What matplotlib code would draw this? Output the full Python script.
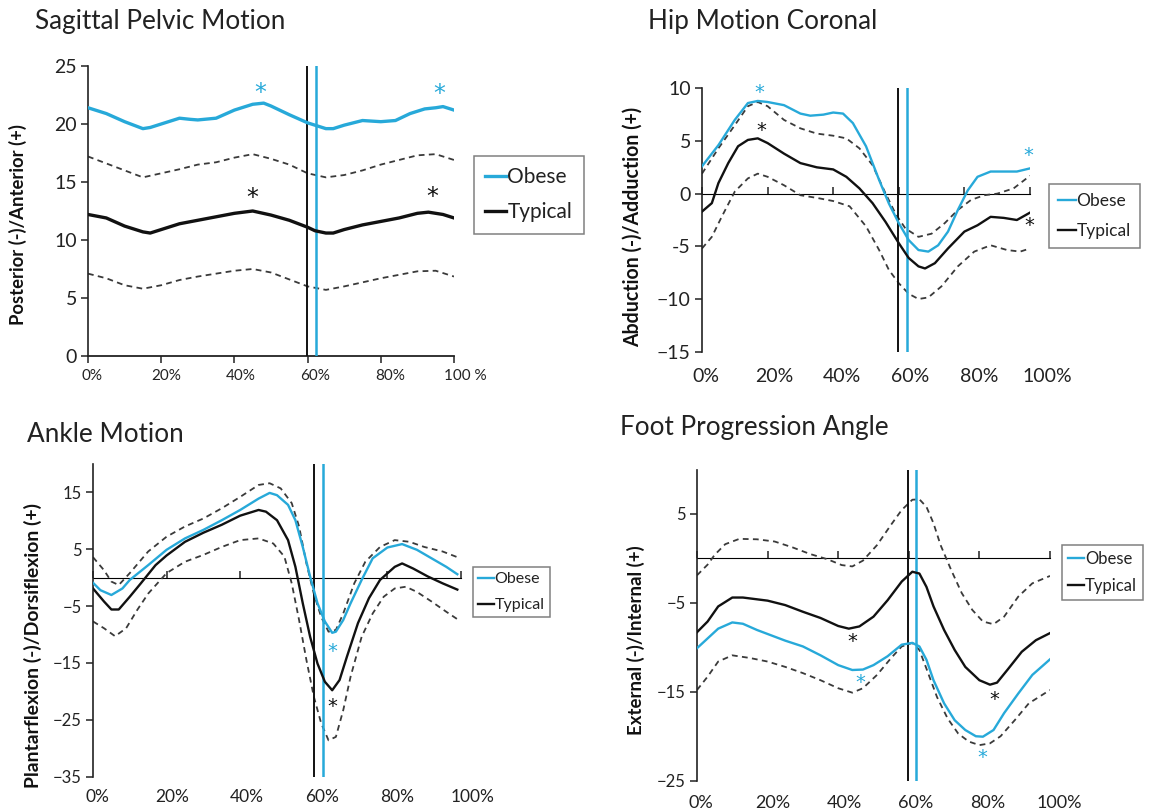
import matplotlib
matplotlib.use("Agg")
import matplotlib.pyplot as plt
from matplotlib.transforms import offset_copy

plt.rcParams['font.family'] = ['Lato', 'DejaVu Sans']

BLUE = '#27a9d9'
DASH = '#3a3a3a'
INK = '#222222'

# ---------------- Panel 1: Sagittal Pelvic Motion ----------------
p1_obese_x = [0, 5, 10, 15, 17, 20, 25, 28, 30, 35, 40, 45, 48, 50, 55, 60, 62, 65, 67, 70, 75, 80, 84, 88, 92, 95, 97, 100]
p1_obese_y = [21.4, 20.9, 20.2, 19.6, 19.7, 20.0, 20.5, 20.4, 20.35, 20.5, 21.2, 21.7, 21.8, 21.55, 20.8, 20.1, 19.9, 19.6, 19.6, 19.9, 20.3, 20.2, 20.3, 20.9, 21.3, 21.4, 21.5, 21.2]
p1_typ_x = [0, 5, 10, 15, 17, 20, 25, 30, 35, 40, 45, 50, 55, 60, 62, 65, 67, 70, 75, 80, 85, 90, 93, 97, 100]
p1_typ_y = [12.2, 11.9, 11.2, 10.7, 10.6, 10.9, 11.4, 11.7, 12.0, 12.3, 12.5, 12.15, 11.7, 11.1, 10.8, 10.6, 10.6, 10.9, 11.3, 11.6, 11.9, 12.3, 12.4, 12.2, 11.9]
p1_sd_x = [0, 5, 10, 15, 20, 25, 30, 35, 40, 45, 50, 55, 60, 65, 70, 75, 80, 85, 90, 95, 100]
p1_upper = [17.2, 16.6, 16.0, 15.4, 15.75, 16.1, 16.5, 16.7, 17.1, 17.4, 17.0, 16.5, 15.75, 15.4, 15.6, 16.0, 16.5, 16.9, 17.3, 17.4, 16.9]
p1_lower = [7.1, 6.7, 6.1, 5.8, 6.1, 6.55, 6.85, 7.1, 7.35, 7.5, 7.2, 6.6, 6.0, 5.7, 6.0, 6.35, 6.7, 7.0, 7.3, 7.35, 6.85]
p1_star_blue = [(47, 22.7), (96, 22.6)]
p1_star_black = [(45, 13.6), (94, 13.7)]
p1_toe_off = (59.8, 62.4)

# ---------------- Panel 2: Hip Motion Coronal ----------------
p2_obese_x = [0, 5, 10, 14, 17, 20, 25, 30, 33, 37, 40, 43, 46, 50, 54, 57, 60, 63, 66, 69, 72, 75, 78, 81, 84, 88, 92, 96, 100]
p2_obese_y = [2.6, 4.6, 7.0, 8.6, 8.8, 8.7, 8.4, 7.6, 7.4, 7.5, 7.7, 7.6, 6.7, 4.5, 1.3, -0.95, -2.8, -4.4, -5.35, -5.5, -4.9, -3.6, -1.55, 0.3, 1.6, 2.1, 2.1, 2.1, 2.4]
p2_typ_x = [0, 3, 5, 8, 11, 14, 17, 20, 25, 30, 35, 40, 44, 48, 52, 56, 60, 63, 66, 68, 71, 75, 80, 84, 88, 92, 96, 100]
p2_typ_y = [-1.7, -0.9, 1.0, 2.9, 4.5, 5.1, 5.25, 4.8, 3.8, 2.9, 2.5, 2.3, 1.6, 0.5, -0.9, -2.7, -4.7, -6.1, -6.9, -7.1, -6.6, -5.2, -3.6, -3.0, -2.2, -2.3, -2.5, -1.8]
p2_up_x = [0, 5, 10, 14, 17, 20, 25, 30, 35, 40, 44, 48, 52, 56, 59, 62, 66, 70, 74, 78, 82, 86, 90, 95, 100]
p2_upper = [1.9, 4.3, 6.5, 8.3, 8.7, 8.3, 7.0, 6.2, 5.7, 5.5, 5.25, 4.3, 2.7, 0.0, -1.9, -3.3, -4.1, -3.8, -2.8, -1.55, -0.6, -0.15, 0.0, 0.5, 1.7]
p2_lo_x = [0, 3, 6, 10, 14, 17, 20, 25, 30, 35, 40, 45, 50, 54, 57, 60, 63, 66, 69, 73, 78, 83, 88, 93, 97, 100]
p2_lower = [-5.2, -4.1, -2.2, 0.2, 1.45, 1.9, 1.6, 0.8, -0.15, -0.4, -0.7, -1.2, -3.1, -5.35, -7.25, -8.5, -9.5, -10.0, -9.85, -8.8, -6.9, -5.5, -4.9, -5.35, -5.5, -5.2]
p2_star_blue = [(17.6, 9.6), (99.5, 3.6)]
p2_star_black = [(18, 6.0), (99.7, -3.0)]
p2_toe_off = (59.9, 62.6)

# ---------------- Panel 3: Ankle Motion ----------------
p3_obese_x = [0, 2, 5, 8, 10, 15, 20, 25, 30, 35, 40, 45, 48, 50, 53, 55, 57, 59, 61, 63, 65, 66, 68, 70, 73, 76, 80, 84, 88, 92, 96, 99]
p3_obese_y = [-0.9, -2.2, -3.05, -1.9, -0.4, 2.2, 4.9, 6.9, 8.4, 10.1, 11.9, 13.9, 14.9, 14.5, 12.8, 10.1, 5.4, 0.2, -4.5, -7.7, -9.7, -9.5, -7.45, -4.5, -0.4, 3.4, 5.3, 5.9, 4.9, 3.4, 1.9, 0.6]
p3_typ_x = [0, 3, 5, 7, 10, 13, 17, 20, 25, 30, 35, 40, 45, 47, 50, 53, 55, 57, 59, 61, 63, 65, 67, 69, 72, 75, 78, 82, 84, 87, 91, 95, 99]
p3_typ_y = [-1.9, -4.2, -5.6, -5.6, -3.35, -1.0, 2.2, 3.9, 6.3, 7.9, 9.3, 10.9, 11.9, 11.6, 10.1, 6.6, 1.9, -4.5, -10.4, -15.1, -18.3, -19.8, -18.0, -13.9, -8.0, -3.6, -0.4, 1.9, 2.5, 1.6, 0.2, -1.0, -2.1]
p3_up_x = [0, 3, 5, 7, 10, 15, 20, 25, 30, 35, 40, 45, 48, 51, 54, 56, 58, 60, 62, 64, 66, 68, 71, 74, 78, 82, 86, 90, 95, 99]
p3_upper = [3.6, 1.3, -0.7, -1.3, 0.8, 4.6, 7.2, 9.0, 10.4, 12.2, 14.2, 16.3, 16.6, 15.7, 13.1, 9.0, 2.5, -2.8, -6.9, -9.5, -9.2, -6.3, -1.0, 2.8, 5.4, 6.6, 6.3, 5.4, 4.6, 3.6]
p3_lo_x = [0, 3, 6, 9, 12, 15, 20, 25, 30, 35, 40, 45, 49, 52, 54, 56, 58, 60, 62, 64, 66, 68, 70, 73, 76, 79, 82, 85, 88, 92, 96, 99]
p3_lower = [-7.7, -8.9, -10.3, -8.9, -5.7, -2.8, 0.8, 2.8, 4.0, 5.4, 6.6, 6.9, 6.0, 3.7, -1.0, -7.45, -14.5, -20.9, -25.6, -28.6, -28.0, -23.3, -17.4, -10.4, -6.3, -3.35, -1.9, -1.6, -2.5, -4.2, -6.0, -7.3]
p3_star_blue = [(65, -13.0)]
p3_star_black = [(65, -22.7)]
p3_toe_off = (60.1, 62.6)

# ---------------- Panel 4: Foot Progression Angle ----------------
p4_obese_x = [0, 3, 6, 10, 13, 17, 20, 25, 30, 35, 40, 44, 47, 50, 54, 58, 61, 63, 65, 67, 70, 73, 76, 79, 81, 84, 87, 91, 95, 100]
p4_obese_y = [-10.1, -9.0, -7.9, -7.2, -7.35, -8.05, -8.5, -9.25, -9.9, -10.9, -12.0, -12.55, -12.5, -12.0, -11.0, -9.7, -9.5, -9.9, -11.4, -13.7, -16.3, -18.2, -19.3, -20.0, -20.05, -19.3, -17.4, -15.2, -13.1, -11.35]
p4_typ_x = [0, 3, 6, 10, 13, 17, 20, 25, 30, 35, 40, 43, 46, 50, 54, 58, 61, 63, 65, 67, 70, 73, 76, 80, 83, 85, 88, 92, 96, 100]
p4_typ_y = [-8.3, -7.1, -5.4, -4.4, -4.4, -4.6, -4.75, -5.25, -6.0, -6.7, -7.6, -7.9, -7.65, -6.55, -4.7, -2.6, -1.5, -1.7, -3.2, -5.4, -8.05, -10.3, -12.2, -13.7, -14.2, -13.97, -12.5, -10.5, -9.2, -8.4]
p4_up_x = [0, 3, 5, 8, 12, 17, 22, 27, 32, 37, 41, 44, 47, 51, 55, 58, 61, 63, 65, 67, 69, 72, 75, 78, 81, 84, 87, 91, 95, 100]
p4_upper = [-1.9, -0.7, 0.4, 1.6, 2.2, 2.15, 1.9, 1.25, 0.5, -0.1, -0.75, -0.9, -0.25, 1.5, 3.8, 5.45, 6.6, 6.65, 5.8, 3.95, 1.5, -1.3, -3.9, -5.8, -7.1, -7.4, -6.55, -4.3, -2.8, -1.97]
p4_lo_x = [0, 3, 6, 10, 15, 20, 25, 30, 35, 40, 44, 47, 51, 55, 58, 61, 63, 65, 68, 71, 74, 77, 80, 83, 86, 90, 94, 100]
p4_lower = [-14.8, -13.3, -11.6, -10.9, -11.2, -11.6, -12.2, -12.9, -13.7, -14.6, -15.1, -14.6, -13.1, -11.2, -9.9, -9.5, -10.3, -12.4, -15.6, -18.0, -19.7, -20.6, -21.0, -20.8, -20.0, -18.2, -16.3, -14.8]
p4_star_blue = [(46.4, -13.9), (80.7, -22.4)]
p4_star_black = [(44, -9.35), (84.3, -15.85)]
p4_toe_off = (59.7, 62.1)

x_ticks = [0, 20, 40, 60, 80, 100]
x_labels_p1 = ['0%', '20%', '40%', '60%', '80%', '100 %']
x_labels = ['0%', '20%', '40%', '60%', '80%', '100%']

W, H = 1151, 811
fig = plt.figure(figsize=(W / 100, H / 100), dpi=100)


def axes_px(x0, x1, ytop, ybot):
    return fig.add_axes([x0 / W, 1 - ybot / H, (x1 - x0) / W, (ybot - ytop) / H])


def draw(ax, ox, oy, tx, ty, ux, uy, lx, ly, lw, stars_b, stars_k, toe, star_fs):
    ax.plot(ux, uy, color=DASH, lw=1.3, ls=(0, (3.2, 2.4)))
    ax.plot(lx, ly, color=DASH, lw=1.3, ls=(0, (3.2, 2.4)))
    ax.axvline(toe[0], color='#111111', lw=1.4, zorder=3)
    ax.axvline(toe[1], color=BLUE, lw=1.8, zorder=3)
    ax.plot(ox, oy, color=BLUE, lw=lw, label='Obese', zorder=4)
    ax.plot(tx, ty, color='#111111', lw=lw, label='Typical', zorder=4)
    for (sx, sy) in stars_b:
        ax.text(sx, sy, '*', color=BLUE, fontsize=star_fs, ha='center', va='center',
                family='DejaVu Sans')
    for (sx, sy) in stars_k:
        ax.text(sx, sy, '*', color='#111111', fontsize=star_fs, ha='center', va='center',
                family='DejaVu Sans')
    for s in ['top', 'right']:
        ax.spines[s].set_visible(False)
    ax.spines['left'].set_linewidth(1.2)
    ax.spines['left'].set_color(INK)
    ax.tick_params(axis='y', direction='out', length=5, width=1.1, color=INK, pad=3)


def cat_axis(ax, ymin, ymax, labels, xfs, pad, a, b):
    # category axis line drawn at y = 0, labels at the bottom (slightly spread like Excel)
    ax.spines['bottom'].set_visible(False)
    ax.set_xticks([])
    frac = (0 - ymin) / (ymax - ymin)
    sec = ax.secondary_xaxis(frac)
    sec.set_xticks(x_ticks)
    sec.set_xticklabels([])
    sec.tick_params(axis='x', direction='out', length=5, width=1.1, color=INK)
    sec.spines['bottom'].set_linewidth(1.3)
    sec.spines['bottom'].set_color(INK)
    tr = offset_copy(ax.get_xaxis_transform(), fig=fig, x=0, y=-pad, units='points')
    for t, lab in zip(x_ticks, labels):
        ax.text(a + b * t, 0, lab, transform=tr, ha='center', va='top',
                fontsize=xfs, color=INK, clip_on=False)
    ax.set_xlim(0, 100)


def legend(ax, x, y, fs, lsp, bpad):
    leg = ax.legend(loc='upper left', bbox_to_anchor=(x / W, 1 - y / H),
                    bbox_transform=fig.transFigure, fontsize=fs, frameon=True,
                    fancybox=False, handlelength=1.0, handletextpad=0.05,
                    borderpad=bpad, labelspacing=lsp, borderaxespad=0)
    leg.get_frame().set_edgecolor('#606060')
    leg.get_frame().set_linewidth(1.1)
    for t in leg.get_texts():
        t.set_color(INK)
    return leg


# Panel 1
ax1 = axes_px(88, 454, 66, 356)
draw(ax1, p1_obese_x, p1_obese_y, p1_typ_x, p1_typ_y, p1_sd_x, p1_upper, p1_sd_x, p1_lower,
     2.4, p1_star_blue, p1_star_black, p1_toe_off, 17)
ax1.set_ylim(0, 25)
ax1.set_yticks([0, 5, 10, 15, 20, 25])
ax1.tick_params(axis='y', labelsize=14, labelcolor=INK)
cat_axis(ax1, 0, 25, x_labels_p1, 11, 9.5, 0.96, 1.02)
yl1 = ax1.set_ylabel('Posterior (-)/Anterior (+)', fontsize=11, fontweight='bold',
                     color='#111111', va='center')
ax1.yaxis.set_label_coords((18 - 88) / 366, (356 - 225) / 290)
legend(ax1, 474, 156, 15, 0.7, 0.55)

# Panel 2
ax2 = axes_px(702, 1030, 88.3, 351.7)
draw(ax2, p2_obese_x, p2_obese_y, p2_typ_x, p2_typ_y, p2_up_x, p2_upper, p2_lo_x, p2_lower,
     1.7, p2_star_blue, p2_star_black, p2_toe_off, 14)
ax2.set_ylim(-15, 10)
ax2.set_yticks([-15, -10, -5, 0, 5, 10])
ax2.set_yticklabels(['\u221215', '\u221210', '-5', '0', '5', '10'])
ax2.tick_params(axis='y', labelsize=14, labelcolor=INK)
cat_axis(ax2, -15, 10, x_labels, 14, 12, 1.2, 1.04)
yl2 = ax2.set_ylabel('Abduction (-)/Adduction (+)', fontsize=11.5, fontweight='bold',
                     color='#111111', va='center')
ax2.yaxis.set_label_coords((633 - 702) / 328, (351.7 - 227) / 263.4)
legend(ax2, 1049, 184, 12.5, 0.78, 0.53)

# Panel 3
ax3 = axes_px(93, 461, 463.9, 776.7)
draw(ax3, p3_obese_x, p3_obese_y, p3_typ_x, p3_typ_y, p3_up_x, p3_upper, p3_lo_x, p3_lower,
     1.7, p3_star_blue, p3_star_black, p3_toe_off, 14)
ax3.set_ylim(-35, 20)
ax3.set_yticks([-35, -25, -15, -5, 5, 15])
ax3.set_yticklabels(['\u221235', '\u221225', '\u221215', '\u22125', '5', '15'])
ax3.tick_params(axis='y', labelsize=12, labelcolor=INK)
cat_axis(ax3, -35, 20, x_labels, 12.5, 9, 1.1, 1.02)
yl3 = ax3.set_ylabel('Plantarflexion (-)/Dorsiflexion (+)', fontsize=11, fontweight='bold',
                     color='#111111', va='center')
ax3.yaxis.set_label_coords((33 - 93) / 368, (776.7 - 646) / 312.8)
legend(ax3, 473, 567, 11.5, 0.75, 0.31)

# Panel 4
ax4 = axes_px(697, 1050, 469.5, 780.7)
draw(ax4, p4_obese_x, p4_obese_y, p4_typ_x, p4_typ_y, p4_up_x, p4_upper, p4_lo_x, p4_lower,
     1.7, p4_star_blue, p4_star_black, p4_toe_off, 14)
ax4.set_ylim(-25, 10)
ax4.set_yticks([-25, -15, -5, 5])
ax4.set_yticklabels(['\u221225', '\u221215', '\u22125', '5'])
ax4.tick_params(axis='y', labelsize=12, labelcolor=INK)
cat_axis(ax4, -25, 10, x_labels, 13, 10, 1.1, 1.014)
yl4 = ax4.set_ylabel('External (-)/Internal (+)', fontsize=10.5, fontweight='bold',
                     color='#111111', va='center')
ax4.yaxis.set_label_coords((636 - 697) / 353, (780.7 - 640) / 311.2)
legend(ax4, 1062, 545, 12, 0.68, 0.34)

# Titles
titles = [
    fig.text(35 / W, 1 - 22 / H, 'Sagittal Pelvic Motion', fontsize=16, color=INK, va='center', ha='left'),
    fig.text(648 / W, 1 - 22 / H, 'Hip Motion Coronal', fontsize=16, color=INK, va='center', ha='left'),
    fig.text(27 / W, 1 - 434 / H, 'Ankle Motion', fontsize=16, color=INK, va='center', ha='left'),
    fig.text(620 / W, 1 - 428 / H, 'Foot Progression Angle', fontsize=16, color=INK, va='center', ha='left'),
]

# size texts to the pixel extents measured on the reference
fig.canvas.draw()
r = fig.canvas.get_renderer()
tw = titles[0].get_window_extent(r).width
tsize = 16 * 251 / tw
for t in titles:
    t.set_fontsize(tsize)
for lab, target in [(yl1, 200), (yl2, 240), (yl3, 285), (yl4, 190)]:
    h = lab.get_window_extent(r).height
    lab.set_fontsize(lab.get_fontsize() * target / h)

fig.savefig('out.png', dpi=100)
